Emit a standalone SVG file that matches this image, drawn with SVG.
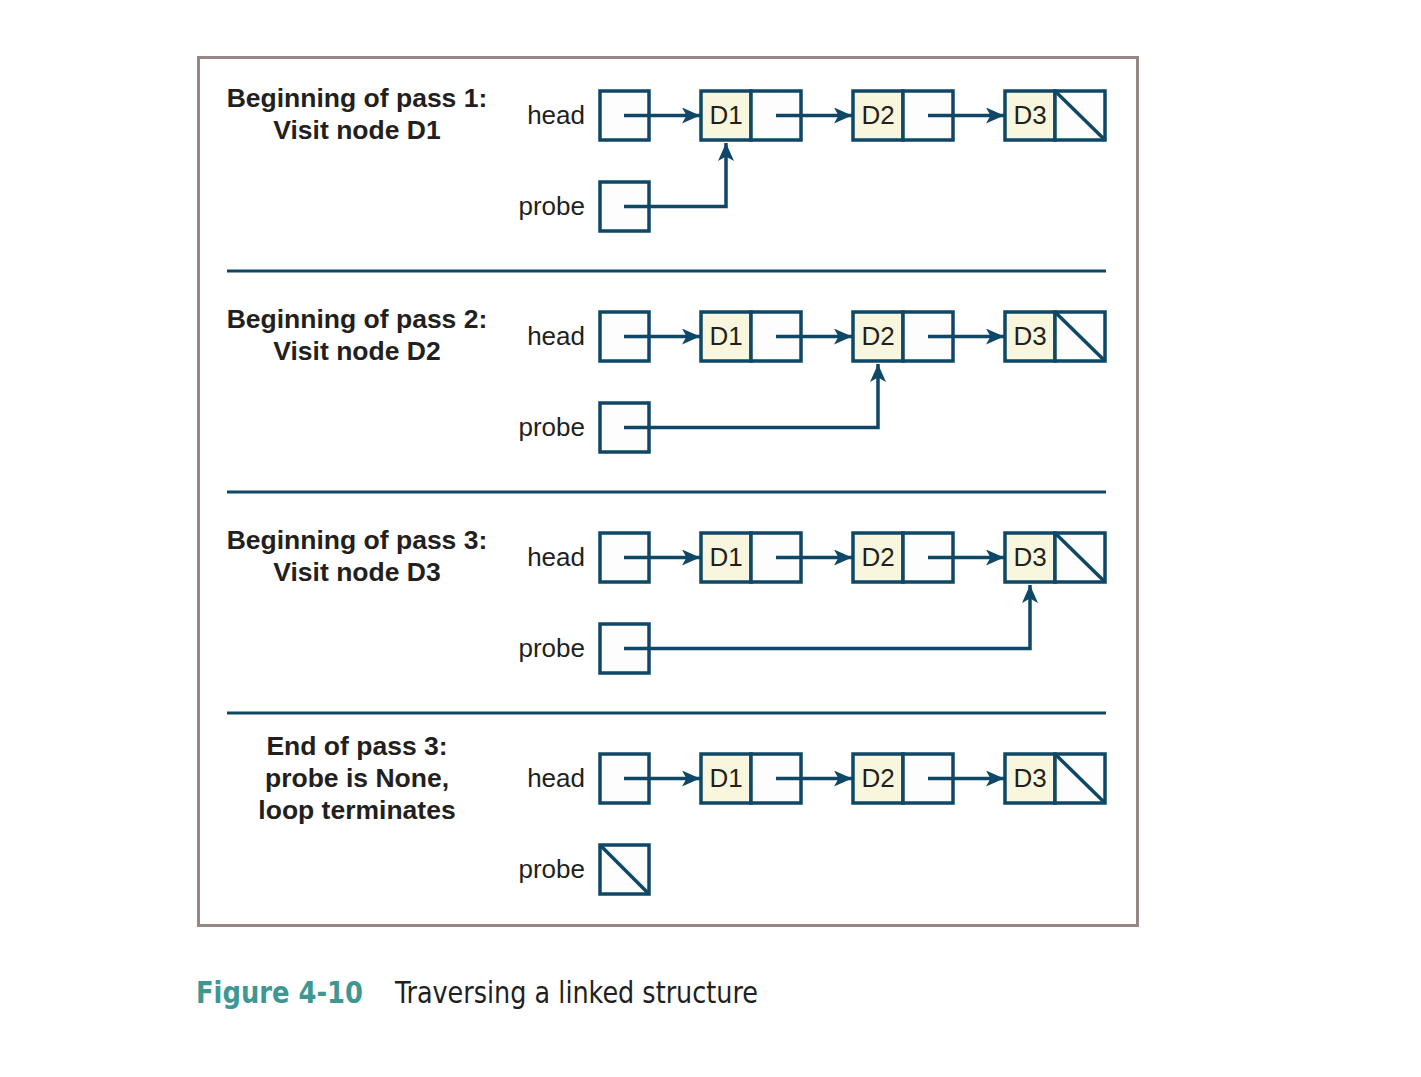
<svg xmlns="http://www.w3.org/2000/svg" width="1421" height="1077" viewBox="0 0 1421 1077">
<defs>
<style>
.bx{fill:#fdfdfd;stroke:#0f4766;stroke-width:3.5}
.dt{fill:#f8f7dd;stroke:#0f4766;stroke-width:3.5}
.ln{fill:none;stroke:#0f4766;stroke-width:3.5}
.sep{stroke:#0f4766;stroke-width:3}
.lbl{font-family:"Liberation Sans",Arial,sans-serif;font-size:26px;fill:#231f20}
.ttl{font-family:"Liberation Sans",Arial,sans-serif;font-size:26.5px;font-weight:bold;fill:#231f20;text-anchor:middle}
.var{text-anchor:end}
.dv{text-anchor:middle}
</style>
<marker id="ah" markerUnits="userSpaceOnUse" markerWidth="20" markerHeight="18" refX="18" refY="8" orient="auto">
<path d="M0,0 L18,8 L0,16 L4.5,8 Z" fill="#0f4766"/>
</marker>
<g id="list">
<rect class="dt" x="701" y="91" width="50" height="49"/>
<rect class="bx" x="751" y="91" width="50" height="49"/>
<rect class="dt" x="853" y="91" width="50" height="49"/>
<rect class="bx" x="903" y="91" width="50" height="49"/>
<rect class="dt" x="1005" y="91" width="50" height="49"/>
<rect class="bx" x="1055" y="91" width="50" height="49"/>
<line class="ln" x1="1055" y1="91" x2="1105" y2="140"/>
<text class="lbl dv" x="726" y="124">D1</text>
<text class="lbl dv" x="878" y="124">D2</text>
<text class="lbl dv" x="1030" y="124">D3</text>
<rect class="bx" x="600" y="91" width="49" height="49"/>
<text class="lbl var" x="585" y="124">head</text>
<text class="lbl var" x="585" y="215">probe</text>
</g>
<g id="listArrows">
<line class="ln" x1="624" y1="115.5" x2="700" y2="115.5" marker-end="url(#ah)"/>
<line class="ln" x1="776" y1="115.5" x2="852" y2="115.5" marker-end="url(#ah)"/>
<line class="ln" x1="928" y1="115.5" x2="1004" y2="115.5" marker-end="url(#ah)"/>
</g>
</defs>

<rect id="frame" x="198.5" y="57.5" width="939" height="868" fill="#ffffff" stroke="#958784" stroke-width="3"/>

<g id="pass1">
<text class="ttl" x="357" y="107">Beginning of pass 1:</text>
<text class="ttl" x="357" y="139">Visit node D1</text>
<use href="#list"/>
<rect class="bx" x="600" y="182" width="49" height="49"/>
</g>
<g id="pass2" transform="translate(0,221)">
<text class="ttl" x="357" y="107">Beginning of pass 2:</text>
<text class="ttl" x="357" y="139">Visit node D2</text>
<use href="#list"/>
<rect class="bx" x="600" y="182" width="49" height="49"/>
</g>
<g id="pass3" transform="translate(0,442)">
<text class="ttl" x="357" y="107">Beginning of pass 3:</text>
<text class="ttl" x="357" y="139">Visit node D3</text>
<use href="#list"/>
<rect class="bx" x="600" y="182" width="49" height="49"/>
</g>
<g id="end" transform="translate(0,663)">
<text class="ttl" x="357" y="92">End of pass 3:</text>
<text class="ttl" x="357" y="124">probe is None,</text>
<text class="ttl" x="357" y="156">loop terminates</text>
<use href="#list"/>
<rect class="bx" x="600" y="182" width="49" height="49"/>
<line class="ln" x1="600" y1="182" x2="649" y2="231"/>
</g>

<g id="connectors">
<use href="#listArrows"/>
<use href="#listArrows" transform="translate(0,221)"/>
<use href="#listArrows" transform="translate(0,442)"/>
<use href="#listArrows" transform="translate(0,663)"/>
<polyline class="ln" points="624,206.5 726,206.5 726,143" marker-end="url(#ah)"/>
<polyline class="ln" points="624,427.5 878,427.5 878,364" marker-end="url(#ah)"/>
<polyline class="ln" points="624,648.5 1030,648.5 1030,585" marker-end="url(#ah)"/>
<line class="sep" x1="227" y1="271" x2="1106" y2="271"/>
<line class="sep" x1="227" y1="492" x2="1106" y2="492"/>
<line class="sep" x1="227" y1="713" x2="1106" y2="713"/>
</g>

<g id="caption">
<text x="196" y="1003" font-family="'Liberation Sans Narrow','DejaVu Sans Condensed','Liberation Sans',sans-serif" font-size="31" font-weight="bold" fill="#3f9793" textLength="167" lengthAdjust="spacingAndGlyphs">Figure 4-10</text>
<text x="395" y="1003" font-family="'Liberation Sans Narrow','DejaVu Sans Condensed','Liberation Sans',sans-serif" font-size="31" fill="#231f20" textLength="363" lengthAdjust="spacingAndGlyphs">Traversing a linked structure</text>
</g>
</svg>
